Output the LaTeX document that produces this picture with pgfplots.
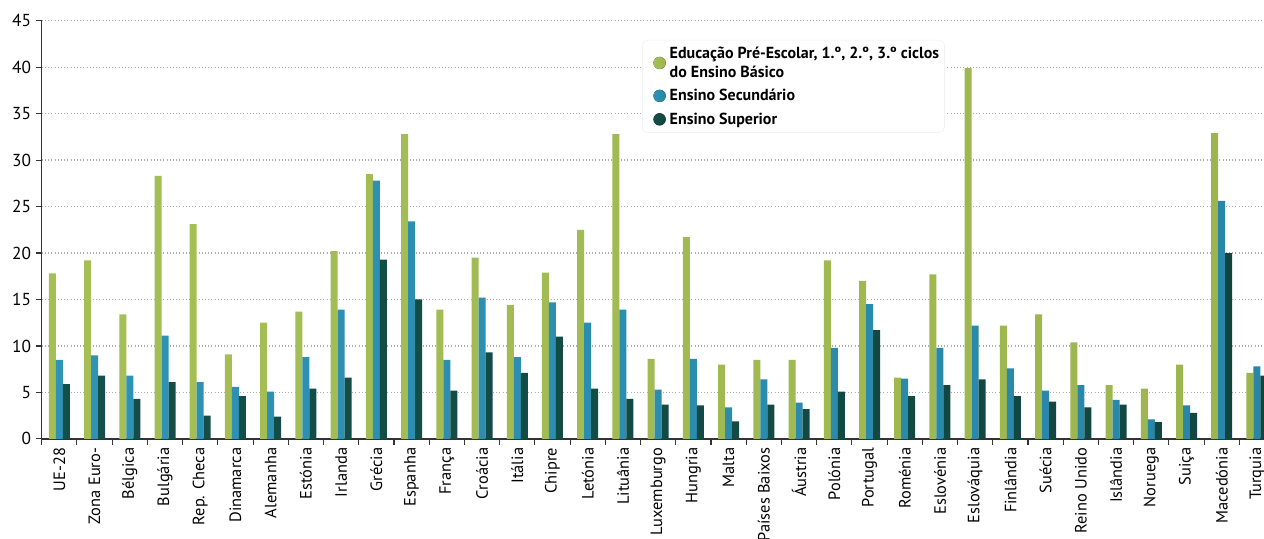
\documentclass[border=0pt]{standalone}
\usepackage{fontspec}
\setmainfont{PT Sans}
\usepackage{pgfplots}
\usepackage{pgfplotstable}
\pgfplotsset{compat=1.18}

\definecolor{gL}{HTML}{A6BF55}
\definecolor{gM}{HTML}{D2E38F}
\definecolor{gR}{HTML}{9DB54E}
\definecolor{bL}{HTML}{2E93B5}
\definecolor{bM}{HTML}{5CC4E2}
\definecolor{bR}{HTML}{2886A8}
\definecolor{dL}{HTML}{154F49}
\definecolor{dM}{HTML}{2B7A70}
\definecolor{dR}{HTML}{11463F}

% x = pais, pre = Educacao Pre-Escolar e Basico, sec = Secundario, sup = Superior
\pgfplotstableread{
x  pre  sec  sup
0  17.8 8.5  5.9
1  19.2 9.0  6.8
2  13.4 6.8  4.3
3  28.3 11.1 6.1
4  23.1 6.1  2.5
5  9.1  5.6  4.6
6  12.5 5.1  2.4
7  13.7 8.8  5.4
8  20.2 13.9 6.6
9  28.5 27.8 19.3
10 32.8 23.4 15.0
11 13.9 8.5  5.2
12 19.5 15.2 9.3
13 14.4 8.8  7.1
14 17.9 14.7 11.0
15 22.5 12.5 5.4
16 32.8 13.9 4.3
17 8.6  5.3  3.7
18 21.7 8.6  3.6
19 8.0  3.4  1.9
20 8.5  6.4  3.7
21 8.5  3.9  3.2
22 19.2 9.8  5.1
23 17.0 14.5 11.7
24 6.6  6.5  4.6
25 17.7 9.8  5.8
26 39.9 12.2 6.4
27 12.2 7.6  4.6
28 13.4 5.2  4.0
29 10.4 5.8  3.4
30 5.8  4.2  3.7
31 5.4  2.1  1.8
32 8.0  3.6  2.8
33 32.9 25.6 20.0
34 7.1  7.8  6.8
}\dados

\begin{document}
\begin{tikzpicture}
\begin{axis}[
  name=ax,
  scale only axis,
  width=916.7pt, height=313.7pt,
  xmin=-0.5, xmax=34.2,
  ymin=0, ymax=45,
  ybar=0pt, bar width=5.25pt,
  every axis plot post/.append style={
    legend image code/.code={\path (0pt,0pt); \fill[#1] (11pt,0pt) circle (4.6pt);}},
  axis x line=bottom, axis y line=left,
  axis line style={-, black!80, line width=1pt},
  tick align=outside,
  xtick={0,...,34},
  xticklabels={UE-28, Zona Euro-, Bélgica, Bulgária, Rep. Checa, Dinamarca,
    Alemanha, Estónia, Irlanda, Grécia, Espanha, França, Croácia, Itália,
    Chipre, Letónia, Lituânia, Luxemburgo, Hungria, Malta, Países Baixos,
    Áustria, Polónia, Portugal, Roménia, Eslovénia, Eslováquia, Finlândia,
    Suécia, Reino Unido, Islândia, Noruega, Suiça, Macedónia, Turquia},
  major x tick style={draw=none},
  minor xtick={-0.5,0.5,...,34.5},
  minor x tick style={black!80, line width=0.8pt},
  minor tick length=4.5pt,
  ytick={0,5,...,45},
  major y tick style={black!80, line width=0.8pt},
  major tick length=4.5pt,
  ymajorgrids,
  grid style={dotted, gray!65, line width=0.9pt},
  xticklabel style={rotate=90, anchor=east, inner xsep=2pt,
    font=\fontsize{12.3}{14}\selectfont},
  yticklabel style={font=\fontsize{13}{15}\selectfont},
  /pgf/number format/assume math mode=true,
  legend style={
    at={(0.4911,0.9539)}, anchor=north west,
    draw=gray!12, rounded corners=4pt, fill=white,
    font=\bfseries\fontsize{12}{14}\selectfont,
    cells={anchor=west, align=left},
    row sep=3.5pt, column sep=1pt, inner xsep=2pt, inner ysep=3pt,
  },
]
\addplot[draw=none, left color=gL, middle color=gM, right color=gR]
  table[x=x, y=pre] {\dados};
\addlegendentry{Educação Pré-Escolar, 1.º, 2.º, 3.º ciclos\\do Ensino Básico}
\addplot[draw=none, left color=bL, middle color=bM, right color=bR]
  table[x=x, y=sec] {\dados};
\addlegendentry{Ensino Secundário}
\addplot[draw=none, left color=dL, middle color=dM, right color=dR]
  table[x=x, y=sup] {\dados};
\addlegendentry{Ensino Superior}
\end{axis}
\pgfresetboundingbox
\path ([shift={(-31.3pt,-75pt)}]ax.south west) rectangle ([shift={(0pt,15.5pt)}]ax.north east);
\end{tikzpicture}
\end{document}
